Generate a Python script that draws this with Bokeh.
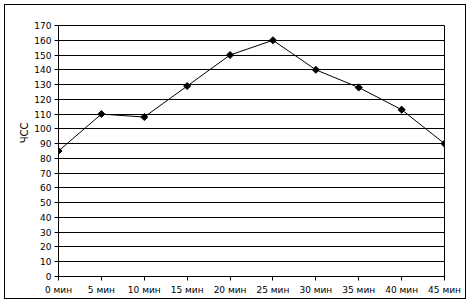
import math
from bokeh.plotting import figure
from bokeh.models import FixedTicker, Range1d, ColumnDataSource, Title
from bokeh.embed import file_html
from bokeh.resources import INLINE

minutes = [0, 5, 10, 15, 20, 25, 30, 35, 40, 45]
minute_labels = ["0 мин", "5 мин", "10 мин", "15 мин", "20 мин", "25 мин",
                 "30 мин", "35 мин", "40 мин", "45 мин"]
hr_values = [85, 110, 108, 129, 150, 160, 140, 128, 113, 90]
y_ticks = list(range(0, 171, 10))
y_label = "ЧСС"

FONT = "DejaVu Sans"

p = figure(width=462, height=295, output_backend="svg", toolbar_location=None,
           x_range=Range1d(minutes[0], minutes[-1]), y_range=Range1d(y_ticks[0], y_ticks[-1]),
           min_border_left=53, min_border_right=23, min_border_top=20, min_border_bottom=24,
           margin=(4, 0, 0, 4), styles={"border": "1px solid black"})

p.background_fill_color = "white"
p.border_fill_color = "white"
p.outline_line_color = "black"
p.outline_line_width = 1

# y axis
p.yaxis.ticker = FixedTicker(ticks=y_ticks)
p.yaxis.major_label_text_font = FONT
p.yaxis.major_label_text_font_size = "9px"
p.yaxis.major_label_text_color = "black"
p.yaxis.major_tick_out = 4
p.yaxis.major_tick_in = 0
p.yaxis.minor_tick_line_color = None
p.yaxis.axis_line_color = "black"
p.yaxis.major_tick_line_color = "black"
p.yaxis.major_label_standoff = 3

# y axis title, left of the tick labels, placed above the vertical centre as in the reference
p.add_layout(Title(text=y_label, align="right", offset=97, standoff=3,
                   text_font=FONT, text_font_size="10px", text_font_style="normal",
                   text_color="black"), "left")

# x axis
p.xaxis.ticker = FixedTicker(ticks=minutes)
p.xaxis.major_label_overrides = {m: lab for m, lab in zip(minutes, minute_labels)}
p.xaxis.major_label_text_font = FONT
p.xaxis.major_label_text_font_size = "9px"
p.xaxis.major_label_text_color = "black"
p.xaxis.major_tick_out = 4
p.xaxis.major_tick_in = 0
p.xaxis.minor_tick_line_color = None
p.xaxis.axis_line_color = "black"
p.xaxis.major_tick_line_color = "black"
p.xaxis.major_label_standoff = 4

# grids
p.xgrid.grid_line_color = None
p.ygrid.ticker = FixedTicker(ticks=y_ticks)
p.ygrid.grid_line_color = "black"
p.ygrid.grid_line_width = 1
p.ygrid.grid_line_alpha = 1

src = ColumnDataSource(dict(x=minutes, y=hr_values))
p.line("x", "y", source=src, line_color="black", line_width=1)
p.scatter("x", "y", source=src, marker="square", angle=math.pi / 4, size=5,
          fill_color="black", line_color="black")

open("out.html", "w").write(file_html(p, INLINE))
